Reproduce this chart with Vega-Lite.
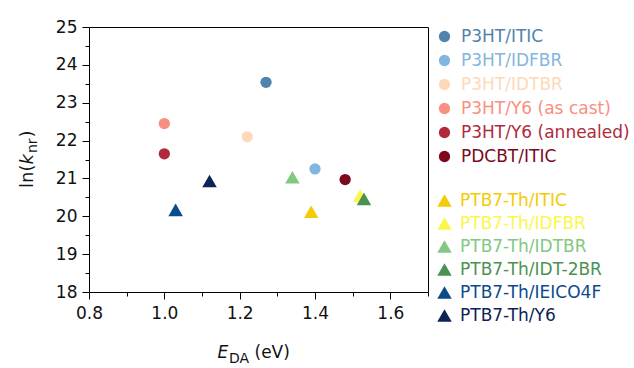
{
  "$schema": "https://vega.github.io/schema/vega-lite/v6.json",
  "width": 339,
  "height": 265,
  "autosize": {"type": "none"},
  "padding": {"left": 89, "top": 27, "right": 206, "bottom": 76},
  "background": "white",
  "config": {
    "font": "DejaVu Sans",
    "view": {"stroke": "black", "strokeWidth": 1},
    "axis": {
      "domainColor": "black",
      "tickColor": "black",
      "labelColor": "#111111",
      "titleColor": "#111111",
      "labelFont": "DejaVu Sans",
      "titleFont": "DejaVu Sans",
      "labelFontSize": 17,
      "titleFontSize": 17,
      "titleFontWeight": "normal",
      "grid": false
    },
    "legend": {
      "labelFont": "DejaVu Sans",
      "labelFontSize": 17,
      "labelLimit": 400,
      "padding": 0
    }
  },
  "data": {
    "values": [
      {"series": "P3HT/ITIC", "kind": "circle", "E": 1.27, "lnk": 23.54},
      {"series": "P3HT/IDFBR", "kind": "circle", "E": 1.40, "lnk": 21.25},
      {"series": "P3HT/IDTBR", "kind": "circle", "E": 1.22, "lnk": 22.10},
      {"series": "P3HT/Y6 (as cast)", "kind": "circle", "E": 1.00, "lnk": 22.45},
      {"series": "P3HT/Y6 (annealed)", "kind": "circle", "E": 1.00, "lnk": 21.65},
      {"series": "PDCBT/ITIC", "kind": "circle", "E": 1.48, "lnk": 20.97},
      {"series": "PTB7-Th/ITIC", "kind": "triangle", "E": 1.39, "lnk": 20.12},
      {"series": "PTB7-Th/IDFBR", "kind": "triangle", "E": 1.52, "lnk": 20.55},
      {"series": "PTB7-Th/IDTBR", "kind": "triangle", "E": 1.34, "lnk": 21.03},
      {"series": "PTB7-Th/IDT-2BR", "kind": "triangle", "E": 1.53, "lnk": 20.46},
      {"series": "PTB7-Th/IEICO4F", "kind": "triangle", "E": 1.03, "lnk": 20.17},
      {"series": "PTB7-Th/Y6", "kind": "triangle", "E": 1.12, "lnk": 20.93}
    ]
  },
  "layer": [
    {
      "transform": [{"filter": "datum.kind === 'circle'"}],
      "mark": {"type": "point", "shape": "circle", "filled": true, "size": 127, "opacity": 1, "strokeWidth": 0},
      "encoding": {
        "x": {
          "field": "E",
          "type": "quantitative",
          "scale": {"domain": [0.8, 1.7], "nice": false, "zero": false},
          "axis": {
            "orient": "bottom",
            "title": "E",
            "titleFontStyle": "italic",
            "titleX": 128,
            "titleY": 65.5,
            "titleAlign": "left",
            "titleBaseline": "alphabetic",
            "titleAnchor": null,
            "values": [0.8, 0.9, 1.0, 1.1, 1.2, 1.3, 1.4, 1.5, 1.6, 1.7],
            "labelExpr": "round(datum.value*10) % 2 === 0 && datum.value < 1.65 ? format(datum.value, '.1f') : ''",
            "tickSize": {"condition": {"test": "round(datum.value*10) % 2 === 1", "value": 4}, "value": 7},
            "labelPadding": 6,
            "labelFlush": false
          }
        },
        "y": {
          "field": "lnk",
          "type": "quantitative",
          "scale": {"domain": [18, 25], "nice": false, "zero": false},
          "axis": {
            "orient": "left",
            "title": "ln(",
            "titleAngle": 270,
            "titleX": -56.5,
            "titleY": 160.5,
            "titleAlign": "left",
            "titleBaseline": "alphabetic",
            "titleFontSize": 18,
            "titleAnchor": null,
            "values": [18, 18.5, 19, 19.5, 20, 20.5, 21, 21.5, 22, 22.5, 23, 23.5, 24, 24.5, 25],
            "labelExpr": "datum.value % 1 === 0 ? format(datum.value, 'd') : ''",
            "tickSize": {"condition": {"test": "datum.value % 1 !== 0", "value": 4}, "value": 7},
            "labelPadding": 5,
            "labelFlush": false
          }
        },
        "color": {
          "field": "series",
          "type": "nominal",
          "sort": null,
          "scale": {
            "domain": ["P3HT/ITIC", "P3HT/IDFBR", "P3HT/IDTBR", "P3HT/Y6 (as cast)", "P3HT/Y6 (annealed)", "PDCBT/ITIC"],
            "range": ["#5083ad", "#84b5dd", "#fdd9b9", "#f98f7f", "#b02a3c", "#7a0a1c"]
          },
          "legend": {
            "title": null,
            "orient": "none",
            "legendX": 347,
            "legendY": 1,
            "symbolType": "circle",
            "symbolSize": 127,
            "symbolStrokeWidth": 0,
            "labelOffset": 8,
            "rowPadding": 6,
            "labelColor": {"expr": "datum.value === 'P3HT/ITIC' ? '#5083ad' : datum.value === 'P3HT/IDFBR' ? '#84b5dd' : datum.value === 'P3HT/IDTBR' ? '#fdd9b9' : datum.value === 'P3HT/Y6 (as cast)' ? '#f98f7f' : datum.value === 'P3HT/Y6 (annealed)' ? '#b02a3c' : '#7a0a1c'"}
          }
        }
      }
    },
    {
      "transform": [{"filter": "datum.kind === 'triangle'"}],
      "mark": {"type": "point", "shape": "triangle-up", "filled": true, "size": 210, "opacity": 1, "strokeWidth": 0},
      "encoding": {
        "x": {
          "field": "E",
          "type": "quantitative",
          "scale": {"domain": [0.8, 1.7], "nice": false, "zero": false},
          "axis": {
            "orient": "bottom",
            "title": "DA",
            "titleFontSize": 14,
            "titleX": 139.5,
            "titleY": 70,
            "titleAlign": "left",
            "titleBaseline": "alphabetic",
            "titleAnchor": null,
            "domain": false,
            "ticks": false,
            "labels": false
          }
        },
        "y": {
          "field": "lnk",
          "type": "quantitative",
          "scale": {"domain": [18, 25], "nice": false, "zero": false},
          "axis": {
            "orient": "left",
            "title": "k",
            "titleFontStyle": "italic",
            "titleFontSize": 18,
            "titleAngle": 270,
            "titleX": -56.5,
            "titleY": 137,
            "titleAlign": "left",
            "titleBaseline": "alphabetic",
            "titleAnchor": null,
            "domain": false,
            "ticks": false,
            "labels": false
          }
        },
        "color": {
          "field": "series",
          "type": "nominal",
          "sort": null,
          "scale": {
            "domain": ["PTB7-Th/ITIC", "PTB7-Th/IDFBR", "PTB7-Th/IDTBR", "PTB7-Th/IDT-2BR", "PTB7-Th/IEICO4F", "PTB7-Th/Y6"],
            "range": ["#f4cb04", "#fbf74a", "#82c882", "#4b9252", "#0b4a8b", "#0c2358"]
          },
          "legend": {
            "title": null,
            "orient": "none",
            "legendX": 347,
            "legendY": 165,
            "symbolType": "triangle-up",
            "symbolSize": 210,
            "symbolStrokeWidth": 0,
            "labelOffset": 7,
            "rowPadding": 5,
            "labelColor": {"expr": "datum.value === 'PTB7-Th/ITIC' ? '#f4cb04' : datum.value === 'PTB7-Th/IDFBR' ? '#fbf74a' : datum.value === 'PTB7-Th/IDTBR' ? '#82c882' : datum.value === 'PTB7-Th/IDT-2BR' ? '#4b9252' : datum.value === 'PTB7-Th/IEICO4F' ? '#0b4a8b' : '#0c2358'"}
          }
        }
      }
    },
    {
      "mark": {"type": "point", "opacity": 0},
      "encoding": {
        "x": {
          "field": "E",
          "type": "quantitative",
          "scale": {"domain": [0.8, 1.7], "nice": false, "zero": false},
          "axis": {
            "orient": "bottom",
            "title": "(eV)",
            "titleX": 165,
            "titleY": 65.5,
            "titleAlign": "left",
            "titleBaseline": "alphabetic",
            "titleAnchor": null,
            "domain": false,
            "ticks": false,
            "labels": false
          }
        },
        "y": {
          "field": "lnk",
          "type": "quantitative",
          "scale": {"domain": [18, 25], "nice": false, "zero": false},
          "axis": {
            "orient": "left",
            "title": "nr",
            "titleFontSize": 14,
            "titleAngle": 270,
            "titleX": -53,
            "titleY": 125.5,
            "titleAlign": "left",
            "titleBaseline": "alphabetic",
            "titleAnchor": null,
            "domain": false,
            "ticks": false,
            "labels": false
          }
        }
      }
    },
    {
      "mark": {"type": "point", "opacity": 0},
      "encoding": {
        "x": {
          "field": "E",
          "type": "quantitative",
          "scale": {"domain": [0.8, 1.7], "nice": false, "zero": false},
          "axis": null
        },
        "y": {
          "field": "lnk",
          "type": "quantitative",
          "scale": {"domain": [18, 25], "nice": false, "zero": false},
          "axis": {
            "orient": "left",
            "title": ")",
            "titleFontSize": 18,
            "titleAngle": 270,
            "titleX": -56.5,
            "titleY": 110,
            "titleAlign": "left",
            "titleBaseline": "alphabetic",
            "titleAnchor": null,
            "domain": false,
            "ticks": false,
            "labels": false
          }
        }
      }
    }
  ],
  "resolve": {
    "scale": {"color": "independent"},
    "legend": {"color": "independent"},
    "axis": {"x": "independent", "y": "independent"}
  }
}
